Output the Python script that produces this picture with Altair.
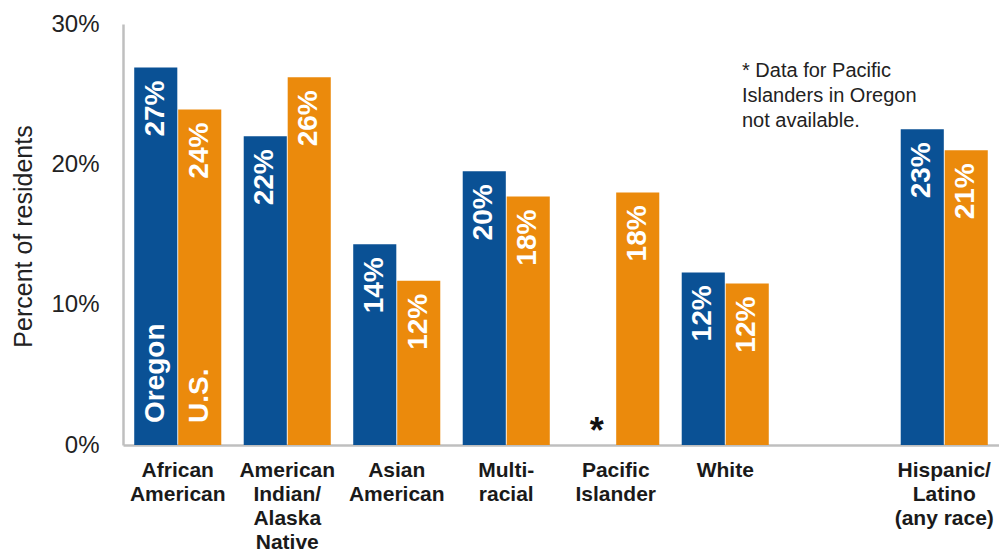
import altair as alt
import pandas as pd

categories = ["African|American", "American|Indian/|Alaska|Native", "Asian|American",
              "Multi-|racial", "Pacific|Islander", "White", "Hispanic/|Latino|(any race)"]
gap_slot = "gap"
oregon = [26.9, 22.0, 14.3, 19.5, None, 12.3, 22.5]
us = [23.9, 26.2, 11.7, 17.7, 18.0, 11.5, 21.0]
oregon_labels = ["27%", "22%", "14%", "20%", "", "12%", "23%"]
us_labels = ["24%", "26%", "12%", "18%", "18%", "12%", "21%"]
series = ["Oregon", "U.S."]
y_ticks = [0, 10, 20, 30]
note_lines = ["* Data for Pacific", "Islanders in Oregon", "not available."]
missing_marker = "*"

BLUE = "#0A5195"
ORANGE = "#EB8A0C"
FONT = "Liberation Sans"

rows = []
for i, c in enumerate(categories):
    rows.append(dict(cat=c, series=series[0], value=oregon[i], label=oregon_labels[i],
                     first=(i == 0), base=0))
    rows.append(dict(cat=c, series=series[1], value=us[i], label=us_labels[i],
                     first=(i == 0), base=0))
df = pd.DataFrame(rows)

x_domain = categories[:6] + [gap_slot] + categories[6:]

x_enc = alt.X(
    "cat:N",
    sort=x_domain,
    scale=alt.Scale(domain=x_domain, paddingInner=0.205, paddingOuter=0.1025),
    axis=alt.Axis(
        title=None, labelAngle=0, ticks=False,
        labelExpr="datum.value == 'gap' ? '' : split(datum.value, '|')",
        labelFont=FONT, labelFontWeight="bold", labelFontSize=21,
        labelLineHeight=24, labelColor="#1a1a1a", labelPadding=14,
        domainColor="#BFBFBF", domainWidth=2.5,
    ),
)
xoff_enc = alt.XOffset("series:N", scale=alt.Scale(domain=series, paddingInner=0.02))
y_scale = alt.Scale(domain=[0, 30], nice=False)

bars = alt.Chart(df).mark_bar().encode(
    x=x_enc,
    xOffset=xoff_enc,
    y=alt.Y("value:Q", scale=y_scale,
            axis=alt.Axis(values=y_ticks, labelExpr="datum.value + '%'", grid=False,
                          ticks=False, labelFont=FONT, labelFontSize=24,
                          labelColor="#222222", labelPadding=24,
                          domainColor="#BFBFBF", domainWidth=2.5,
                          title="Percent of residents", titleFont=FONT,
                          titleFontSize=25, titleFontWeight="normal",
                          titleColor="#222222", titleAngle=270,
                          titleX=-92, titleY=212, titleBaseline="alphabetic",
                          titleAlign="center")),
    color=alt.Color("series:N", scale=alt.Scale(domain=series, range=[BLUE, ORANGE]),
                    legend=None),
)

value_labels = alt.Chart(df).transform_filter("datum.label != ''").mark_text(
    angle=270, align="right", baseline="middle", dx=-13,
    font=FONT, fontWeight="bold", fontSize=28, color="white",
).encode(x=x_enc, xOffset=xoff_enc, y=alt.Y("value:Q", scale=y_scale), text="label:N")

series_labels = alt.Chart(df).transform_filter("datum.first").mark_text(
    angle=270, align="left", baseline="middle", dx=22,
    font=FONT, fontWeight="bold", fontSize=28, color="white",
).encode(x=x_enc, xOffset=xoff_enc, y=alt.Y("base:Q", scale=y_scale), text="series:N")

star = alt.Chart(df).transform_filter("!isValid(datum.value)").mark_text(
    align="center", baseline="alphabetic", dx=3, dy=-2,
    font=FONT, fontWeight="bold", fontSize=36, color="#111111",
    text=missing_marker,
).encode(x=x_enc, xOffset=xoff_enc, y=alt.Y("base:Q", scale=y_scale))

note = alt.Chart(pd.DataFrame({"n": [0]})).mark_text(
    align="left", baseline="top", font=FONT, fontSize=20, lineHeight=25,
    color="#222222", text=note_lines,
).encode(x=alt.value(619), y=alt.value(37))

chart = alt.layer(bars, value_labels, series_labels, star, note).properties(
    width=876, height=421,
    padding={"left": 115, "top": 16, "right": 0, "bottom": 107},
    autosize=alt.AutoSizeParams(type="none"),
).configure_view(stroke=None)

chart.save("out.html", embed_options={"renderer": "svg", "actions": False})
